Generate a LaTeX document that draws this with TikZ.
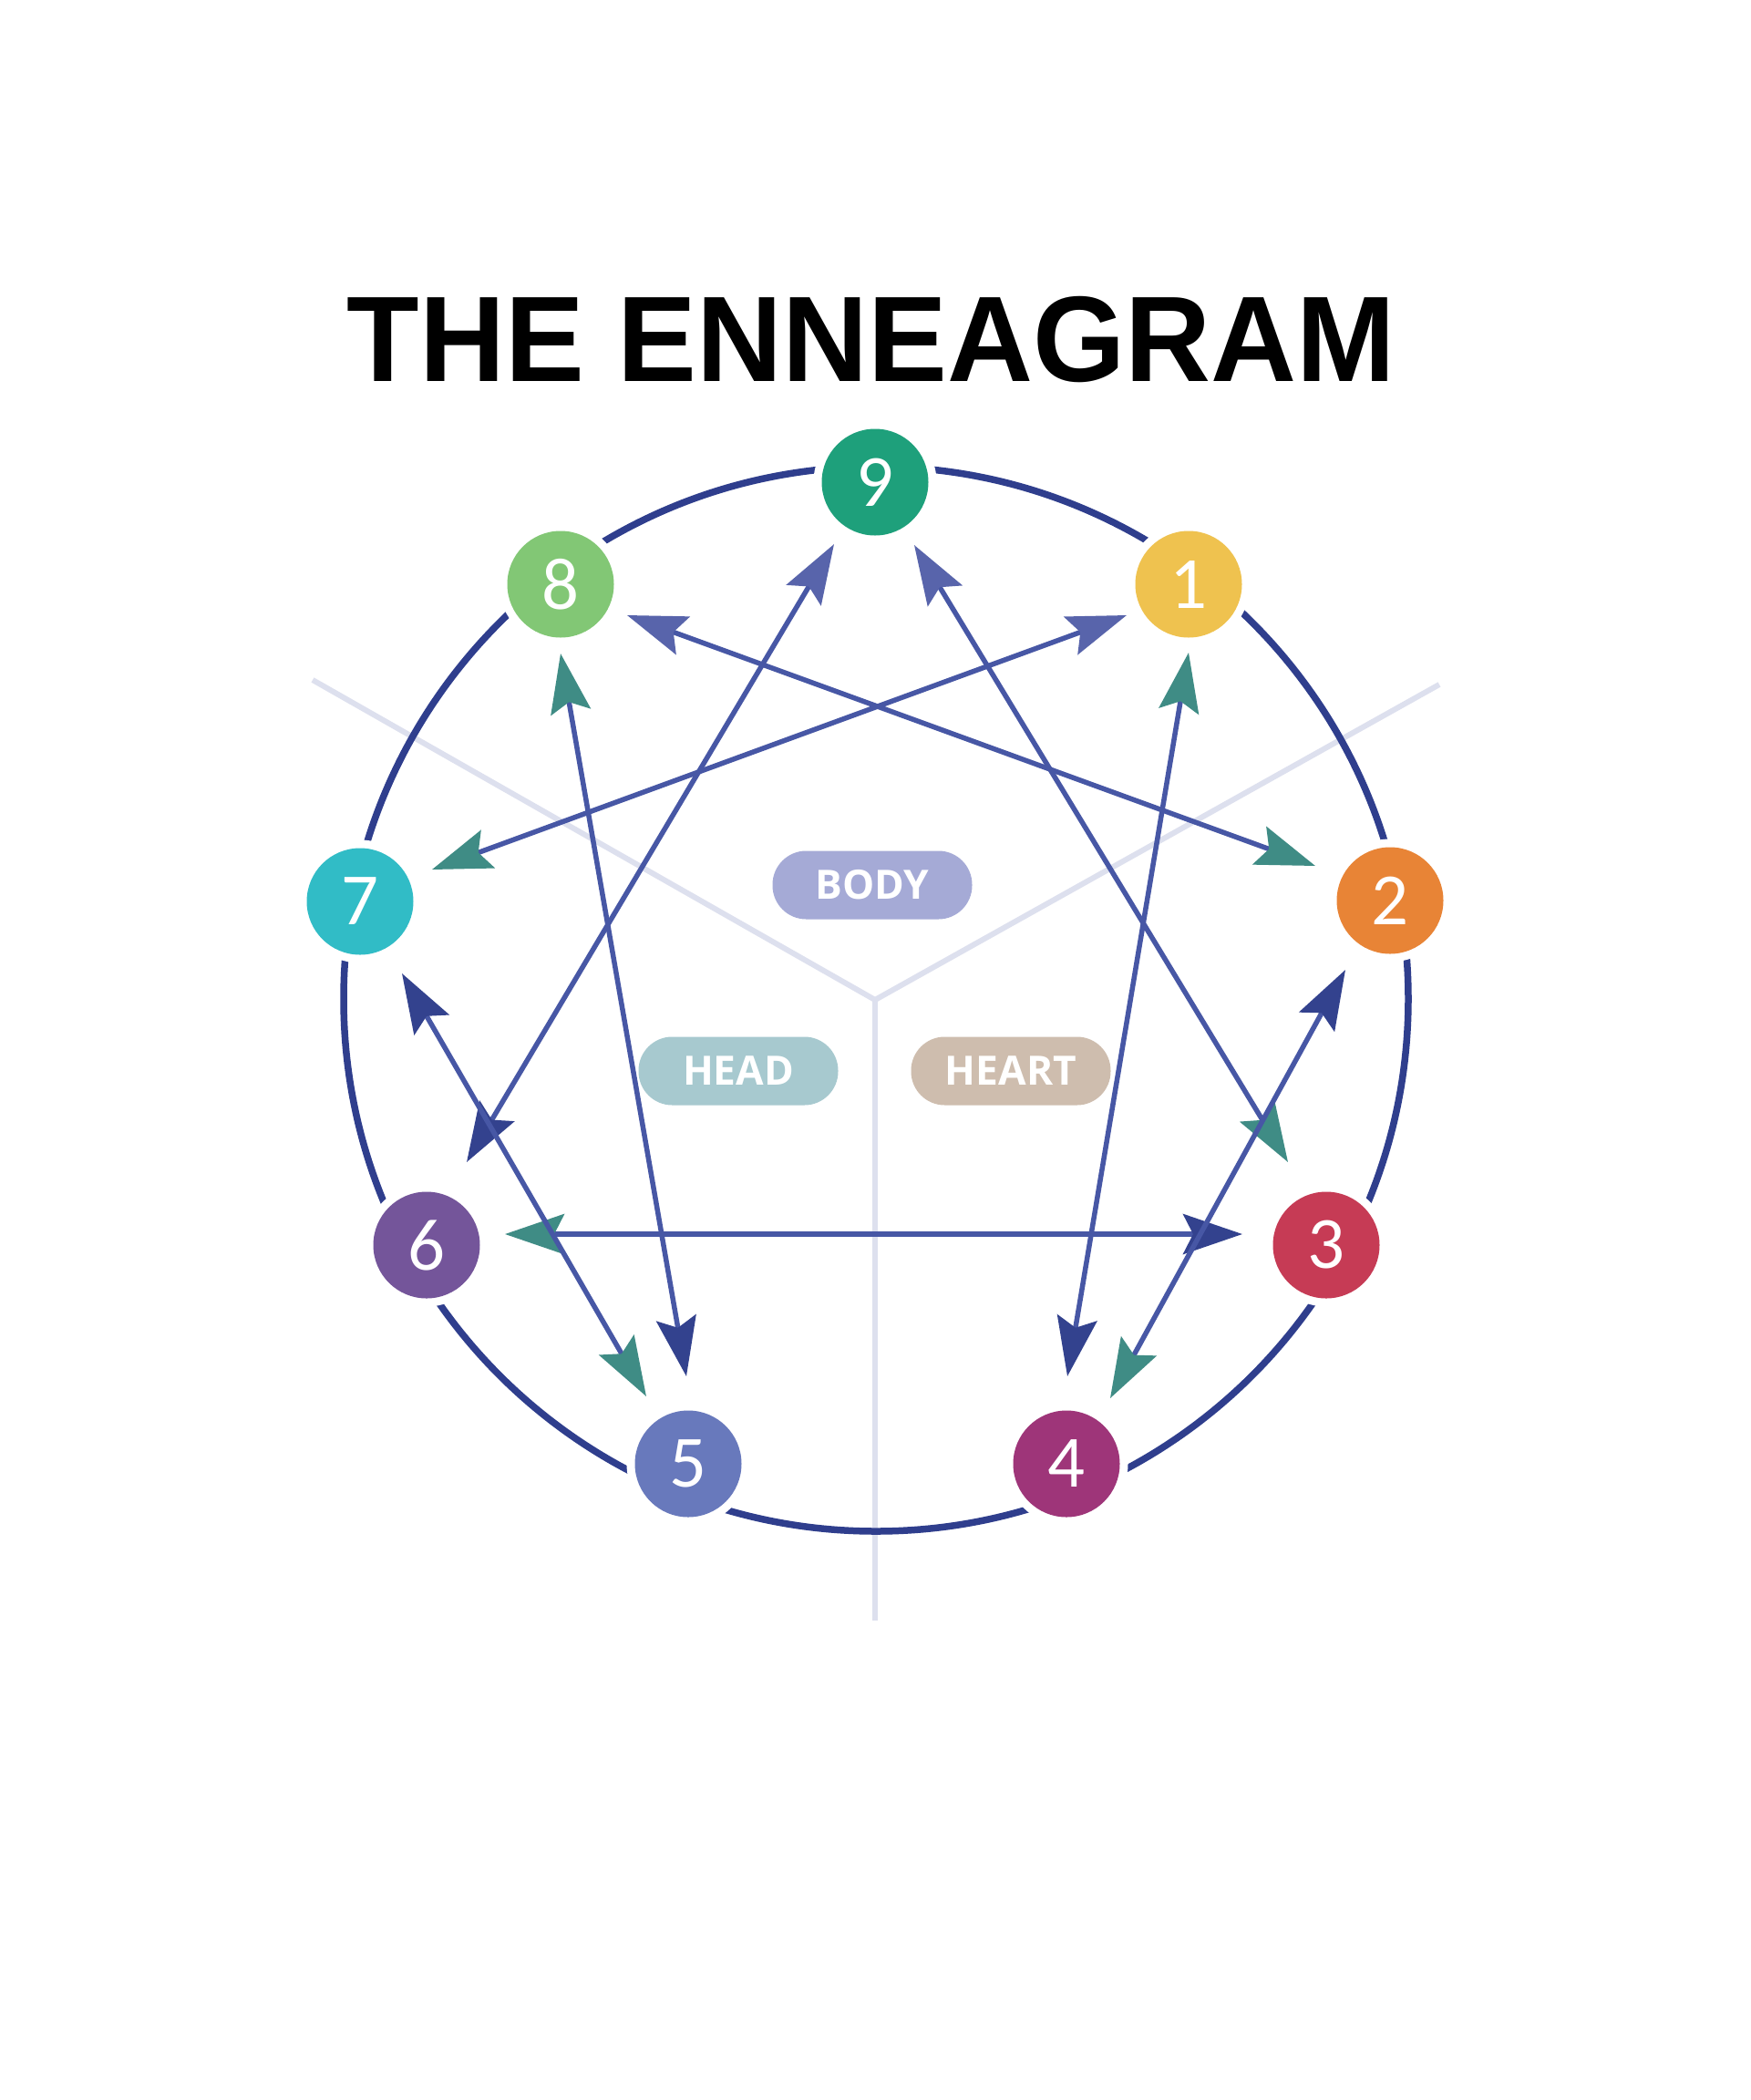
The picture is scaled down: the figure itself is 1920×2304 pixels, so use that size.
\documentclass[tikz,border=0pt]{standalone}
\usepackage{fontspec}
\usetikzlibrary{arrows.meta,calc}
\newfontfamily\titlefont[FakeStretch=0.975]{Liberation Sans}
\newfontfamily\numfont{Carlito}
\newfontfamily\pillfont{Open Sans}
\definecolor{ringc}{HTML}{2F3E8D}
\definecolor{chordc}{HTML}{4757A5}
\definecolor{navyD}{HTML}{33428E}
\definecolor{navyL}{HTML}{5864AB}
\definecolor{tealA}{HTML}{3F8C85}
\definecolor{sepc}{HTML}{DDE0EE}
\definecolor{c9}{HTML}{1EA07B}
\definecolor{c8}{HTML}{82C775}
\definecolor{c1}{HTML}{EFC24F}
\definecolor{c2}{HTML}{E88436}
\definecolor{c3}{HTML}{C63B55}
\definecolor{c4}{HTML}{9E3579}
\definecolor{c5}{HTML}{6879BC}
\definecolor{c6}{HTML}{74559A}
\definecolor{c7}{HTML}{31BCC6}
\definecolor{bodyc}{HTML}{A5AAD6}
\definecolor{headc}{HTML}{A7C9CF}
\definecolor{heartc}{HTML}{CEBDAE}
\tikzset{
  tipN/.tip={Stealth[length=6.5mm,width=4.4mm,inset=1.1mm,color=navyD]},
  tipL/.tip={Stealth[length=6.5mm,width=4.4mm,inset=1.1mm,color=navyL]},
  tipT/.tip={Stealth[length=6.5mm,width=4.4mm,inset=1.1mm,color=tealA]},
  chord/.style={draw=chordc, line width=0.55mm},
  ringline/.style={draw=ringc, line width=0.75mm},
  sepline/.style={draw=sepc, line width=0.6mm, line join=round},
  enn/.style={circle, minimum size=11.7mm, inner sep=0pt, text=white,
    font=\numfont\fontsize{23}{24}\selectfont,
    preaction={draw=white, line width=1.8mm}},
  pill/.style={rectangle, rounded corners=3.7mm, minimum width=21.9mm,
    minimum height=7.5mm, inner sep=0pt, text=white,
    font=\pillfont\bfseries\fontsize{12.6}{14}\selectfont},
}
\begin{document}
\begin{tikzpicture}[x=0.1mm,y=-0.1mm]
\fill[white] (0,0) rectangle (1920,2304);
\useasboundingbox (0,0) rectangle (1920,2304);
% title
\node[anchor=base, inner sep=0pt, font=\titlefont\bfseries\fontsize{38}{40}\selectfont] (title) at (956,418) {THE ENNEAGRAM};
% centre separators
\coordinate (yc) at (960,1097);
\coordinate (sl) at (343,746);
\coordinate (sr) at (1579,751);
\coordinate (sb) at (960,1778);
\draw[sepline] (sl) -- (yc) -- (sr);
\draw[sepline] (yc) -- (sb);
% ring
\coordinate (rc) at (961,1096);
\draw[ringline] (rc) circle[radius=584];
% pills
\node[pill, fill=bodyc] (body) at (957,971) {BODY};
\node[pill, fill=headc] (head) at (810,1175) {HEAD};
\node[pill, fill=heartc] (heart) at (1109,1175) {HEART};
% type nodes
\node[enn, fill=c9] (n9) at (960,529) {9};
\node[enn, fill=c1] (n1) at (1304,641) {1};
\node[enn, fill=c2] (n2) at (1525,988) {2};
\node[enn, fill=c3] (n3) at (1455,1366) {3};
\node[enn, fill=c4] (n4) at (1170,1606) {4};
\node[enn, fill=c5] (n5) at (755,1606) {5};
\node[enn, fill=c6] (n6) at (468,1366) {6};
\node[enn, fill=c7] (n7) at (395,989) {7};
\node[enn, fill=c8] (n8) at (615,641) {8};
% chords
\draw[chord, tipL-tipN] ($(n9)+(-45,68)$) -- ($(n6)+(44,-91)$);
\draw[chord, tipL-tipT] ($(n9)+(43,69)$) -- ($(n3)+(-42,-91)$);
\draw[chord, tipT-tipN] ($(n6)+(86,-12)$) -- ($(n3)+(-92,-12)$);
\draw[chord, tipT-tipN] ($(n1)+(0,75)$) -- ($(n4)+(1,-96)$);
\draw[chord, tipL-tipT] ($(n1)+(-68,34)$) -- ($(n7)+(79,-35)$);
\draw[chord, tipL-tipT] ($(n8)+(73,34)$) -- ($(n2)+(-82,-38)$);
\draw[chord, tipT-tipN] ($(n8)+(0,76)$) -- ($(n5)+(-2,-96)$);
\draw[chord, tipN-tipT] ($(n7)+(46,79)$) -- ($(n5)+(-46,-74)$);
\draw[chord, tipN-tipT] ($(n2)+(-49,76)$) -- ($(n4)+(48,-72)$);
\end{tikzpicture}
\end{document}
